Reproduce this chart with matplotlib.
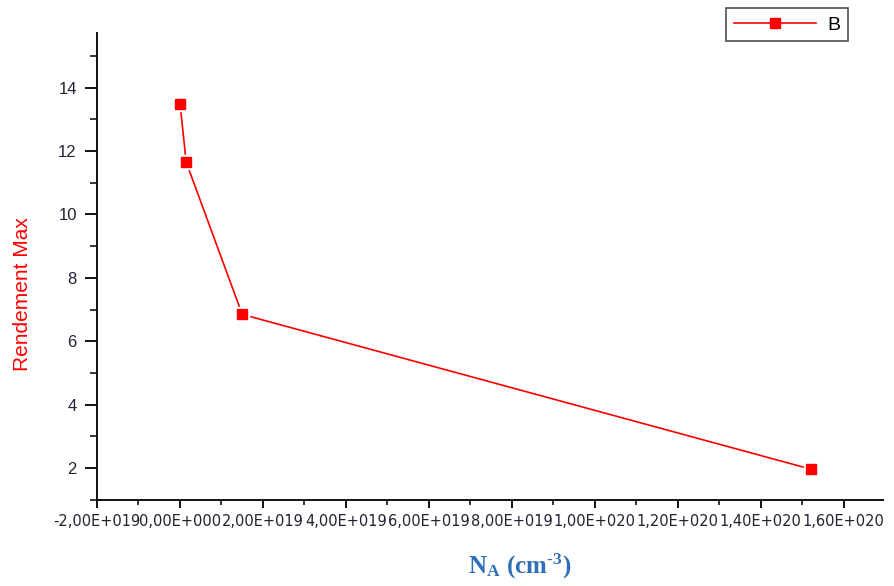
import matplotlib
matplotlib.use('Agg')
import matplotlib.pyplot as plt
from matplotlib.ticker import MultipleLocator

# dopage accepteur vs rendement max
na = [1.0e16, 1.5e18, 1.5e19, 1.52e20]
rendement = [13.5, 11.65, 6.85, 1.97]

x_ticks = [-2e19, 0, 2e19, 4e19, 6e19, 8e19, 1e20, 1.2e20, 1.4e20, 1.6e20]
x_tick_labels = ['-2,00E+019', '0,00E+000', '2,00E+019', '4,00E+019', '6,00E+019',
                 '8,00E+019', '1,00E+020', '1,20E+020', '1,40E+020', '1,60E+020']
y_ticks = [2, 4, 6, 8, 10, 12, 14]

plt.rcParams['mathtext.fontset'] = 'custom'
plt.rcParams['mathtext.rm'] = 'Liberation Serif:bold'
plt.rcParams['mathtext.it'] = 'Liberation Serif:bold'
plt.rcParams['mathtext.bf'] = 'Liberation Serif:bold'

fig = plt.figure(figsize=(8.94, 5.86), dpi=100)
ax = fig.add_axes([0.1085, 0.147, 0.879, 0.797])

line, = ax.plot(na, rendement, color='#ff0000', lw=1.2, marker='s', ms=7,
                mec='#ff0000', mfc='#ff0000', label='B', zorder=2)
# white halo so the line stops short of each marker
ax.plot(na, rendement, ls='none', marker='s', ms=9.5, mfc='white', mec='white', zorder=3)
ax.plot(na, rendement, ls='none', marker='s', ms=7, mfc='#ff0000', mec='#ff0000', zorder=4)

ax.set_xlim(-2e19, 1.694e20)
ax.set_ylim(1.0, 15.73)

ax.set_xticks(x_ticks)
ax.set_xticklabels(x_tick_labels, fontsize=10.5, family='DejaVu Sans', color='#222233')
ax.xaxis.set_minor_locator(MultipleLocator(1e19))
ax.set_yticks(y_ticks)
ax.set_yticklabels([str(v) for v in y_ticks], fontsize=12, family='Liberation Sans', color='#222233')
ax.yaxis.set_minor_locator(MultipleLocator(1))

ax.spines['top'].set_visible(False)
ax.spines['right'].set_visible(False)
for s in ['left', 'bottom']:
    ax.spines[s].set_linewidth(1.4)
    ax.spines[s].set_color('#111111')

ax.tick_params(axis='y', which='major', direction='out', length=8.5, width=1.3, pad=6)
ax.tick_params(axis='y', which='minor', direction='out', length=5, width=1.1)
ax.tick_params(axis='x', which='major', direction='out', length=6, width=1.3, pad=4)
ax.tick_params(axis='x', which='minor', direction='out', length=3.5, width=1.1)

ax.set_ylabel('Rendement Max', color='#ff0000', fontsize=15, family='Liberation Sans')
ax.yaxis.set_label_coords(-0.083, 0.441)
ax.set_xlabel('$\\mathrm{N_A\\ (cm^{\u20103})}$', color='#2f6fb8', fontsize=18)
ax.xaxis.set_label_coords(0.538, -0.112)

leg = fig.legend(handles=[line], loc='upper right', bbox_to_anchor=(0.9485, 0.986),
                 borderaxespad=0, frameon=True, fancybox=False, handlelength=4.2,
                 borderpad=0.4, handletextpad=0.6, prop={'family': 'Liberation Sans', 'size': 14})
leg.get_frame().set_edgecolor('#222222')
leg.get_frame().set_linewidth(1.2)

fig.savefig('out.png', dpi=100)
